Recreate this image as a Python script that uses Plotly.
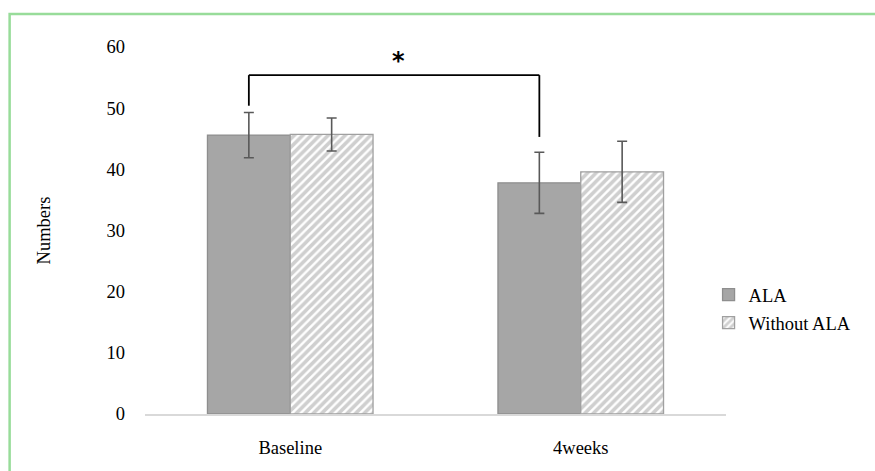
import plotly.graph_objects as go

categories = ["Baseline", "4weeks"]
series_names = ["ALA", "Without ALA"]
ala_values = [45.6, 37.8]
ala_errors = [3.7, 5.0]
without_values = [45.7, 39.6]
without_errors = [2.7, 5.0]
y_ticks = [0, 10, 20, 30, 40, 50, 60]
bracket_top = 55.4
bracket_left_end = 50.4
bracket_right_end = 45.3
sig_label = "*"

FONT = "Liberation Serif, Times New Roman, serif"
FS = 18.5
bargap = 0.43

fig = go.Figure()
fig.add_trace(go.Bar(
    x=categories, y=ala_values, name=series_names[0],
    marker=dict(color="#A6A6A6", line=dict(color="#8E8E8E", width=1.3)),
    error_y=dict(type="data", array=ala_errors, color="#595959", thickness=1.6, width=5),
    legendgroup="a",
))
fig.add_trace(go.Bar(
    x=categories, y=without_values, name=series_names[1],
    marker=dict(color="white", line=dict(color="#A0A0A0", width=1.3),
                pattern=dict(shape="/", fgcolor="#A0A0A0", bgcolor="white",
                             size=6, solidity=0.6)),
    error_y=dict(type="data", array=without_errors, color="#595959", thickness=1.6, width=5),
    legendgroup="b",
))

# significance bracket between ALA bars (offset of first bar in the group)
off = -(1 - bargap) / 4
xl = 0 + off
xr = 1 + off
line_style = dict(color="black", width=1.8)
fig.add_shape(type="line", xref="x", yref="y", x0=xl, x1=xr, y0=bracket_top, y1=bracket_top, line=line_style)
fig.add_shape(type="line", xref="x", yref="y", x0=xl, x1=xl, y0=bracket_top, y1=bracket_left_end, line=line_style)
fig.add_shape(type="line", xref="x", yref="y", x0=xr, x1=xr, y0=bracket_top, y1=bracket_right_end, line=line_style)
fig.add_annotation(x=(xl + xr) / 2, y=bracket_top, xref="x", yref="y", text="<b>" + sig_label + "</b>",
                   showarrow=False, yanchor="bottom", yshift=-2, xshift=4,
                   font=dict(family="DejaVu Sans", size=24, color="black"))

# outer green frame
fig.add_shape(type="rect", xref="paper", yref="paper", x0=-0.233, x1=1.4, y0=-0.3, y1=1.09,
              line=dict(color="#98DC9A", width=2.5), layer="below")

fig.update_layout(
    width=875, height=471,
    margin=dict(l=145, r=149, t=47, b=57),
    paper_bgcolor="white", plot_bgcolor="white",
    barmode="group", bargap=bargap, bargroupgap=0,
    font=dict(family=FONT, size=FS, color="black"),
    showlegend=True,
    legend=dict(x=0.97, xanchor="left", y=0.286, yanchor="middle",
                font=dict(family=FONT, size=FS), tracegroupgap=1,
                itemwidth=30, bgcolor="rgba(0,0,0,0)"),
    xaxis=dict(showline=True, linecolor="#D9D9D9", linewidth=1.5, ticks="",
               showgrid=False, ticklabelstandoff=16,
               tickfont=dict(family=FONT, size=FS)),
    yaxis=dict(range=[0, 60], tickvals=y_ticks, showgrid=False, zeroline=False,
               showline=False, ticks="", ticklabelstandoff=19,
               tickfont=dict(family=FONT, size=FS),
               title=dict(text="Numbers", standoff=51, font=dict(family=FONT, size=FS))),
)

fig.write_html("out.html", config={"displayModeBar": False},
               post_script="document.body.style.margin='0';")
